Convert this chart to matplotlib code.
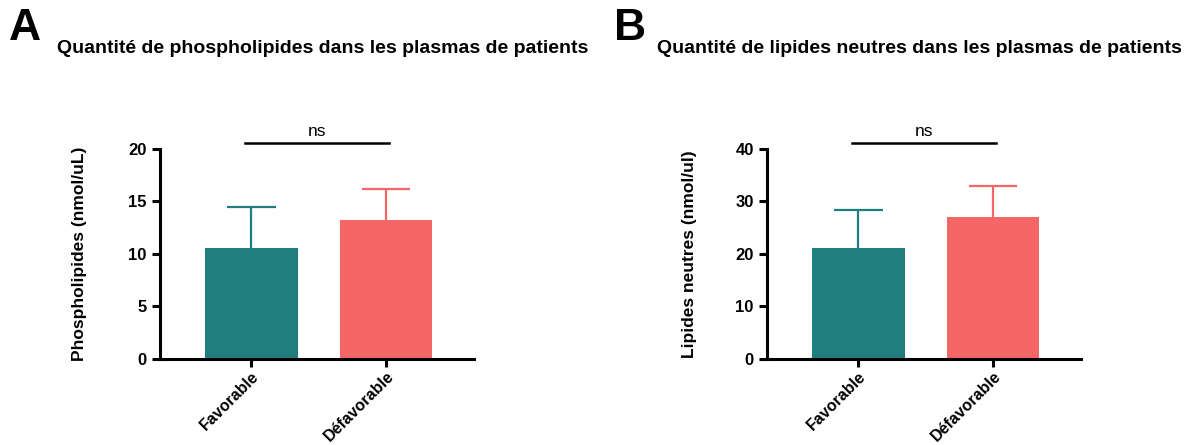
import matplotlib
matplotlib.use("Agg")
import matplotlib.pyplot as plt

plt.rcParams['font.family'] = ['Liberation Sans', 'DejaVu Sans']
plt.rcParams['font.weight'] = 'bold'

groups = ["Favorable", "Défavorable"]
colors = ["#1f7f7e", "#f56767"]

phospho_mean = [10.6, 13.2]
phospho_sd = [3.9, 3.0]
neutral_mean = [21.1, 27.0]
neutral_sd = [7.2, 5.9]

yticks_a = [0, 5, 10, 15, 20]
yticks_b = [0, 10, 20, 30, 40]


def draw_panel(ax, means, sds, yticks, ylabel, ns_y, labelpad):
    x = range(len(groups))
    ax.bar(x, means, width=0.69, color=colors, zorder=2)
    for xi, m, s, c in zip(x, means, sds, colors):
        ax.vlines(xi, m, m + s, color=c, lw=1.6, zorder=1)
        ax.hlines(m + s, xi - 0.18, xi + 0.18, color=c, lw=1.6, zorder=1)

    ax.set_xlim(-0.68, 1.654)
    ax.set_ylim(yticks[0], yticks[-1])
    ax.set_yticks(yticks)
    ax.set_xticks(list(x))
    ax.set_xticklabels(groups, rotation=45, ha='right', va='top',
                       rotation_mode='anchor', fontsize=11.5, fontweight='bold')
    ax.tick_params(axis='y', labelsize=12, width=2.2, length=6)
    ax.tick_params(axis='x', width=2.2, length=6, pad=1)
    for lab in ax.get_yticklabels():
        lab.set_fontweight('bold')
    ax.set_ylabel(ylabel, fontsize=12.5, fontweight='bold', labelpad=labelpad)

    for side in ['top', 'right']:
        ax.spines[side].set_visible(False)
    for side in ['left', 'bottom']:
        ax.spines[side].set_linewidth(2.2)

    # significance bar between the two groups
    ax.plot([-0.05, 1.02], [ns_y, ns_y], color='black', lw=1.8, clip_on=False)
    ax.text(0.485, ns_y * 1.02, "ns", ha='center', va='bottom', fontsize=12.5,
            fontweight='normal')


fig = plt.figure(figsize=(11.99, 4.45), dpi=100)
ax_a = fig.add_axes([0.1334, 0.1933, 0.2619, 0.4719])
ax_b = fig.add_axes([0.6397, 0.1933, 0.2619, 0.4719])

draw_panel(ax_a, phospho_mean, phospho_sd, yticks_a,
           "Phospholipides (nmol/uL)", 20.57, 30)
draw_panel(ax_b, neutral_mean, neutral_sd, yticks_b,
           "Lipides neutres (nmol/ul)", 41.1, 28)

fig.text(0.007, 0.935, "A", fontsize=32, fontweight='bold', va='center')
fig.text(0.512, 0.935, "B", fontsize=32, fontweight='bold', va='center')
fig.text(0.0475, 0.892, "Quantité de phospholipides dans les plasmas de patients",
         fontsize=14, fontweight='bold', va='center')
fig.text(0.548, 0.892, "Quantité de lipides neutres dans les plasmas de patients",
         fontsize=14, fontweight='bold', va='center')

fig.savefig("out.png", dpi=100)
